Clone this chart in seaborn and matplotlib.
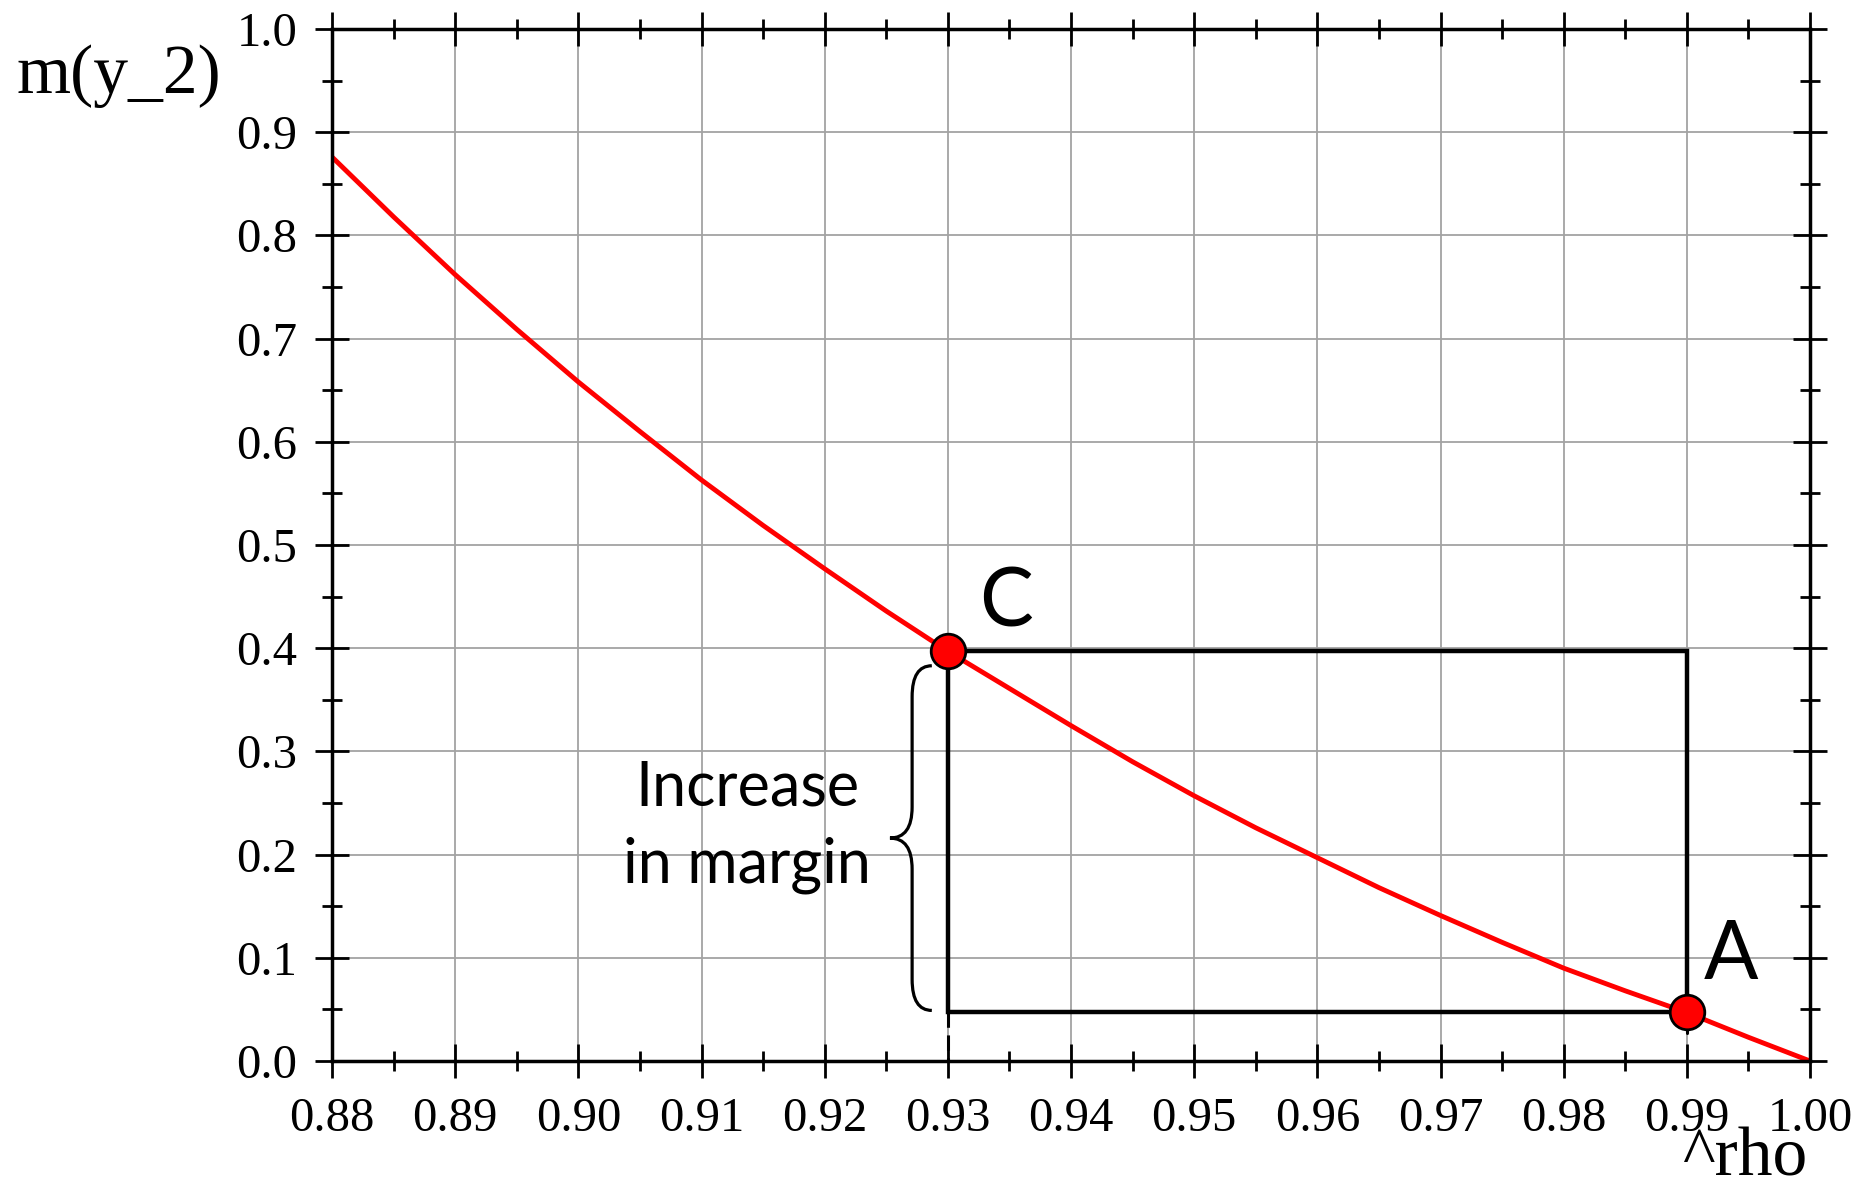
import numpy as np
import pandas as pd
import matplotlib
matplotlib.use("Agg")
import matplotlib.pyplot as plt
from matplotlib.path import Path
from matplotlib.patches import PathPatch
from matplotlib.ticker import MultipleLocator, FixedLocator, FixedFormatter
import seaborn as sns

# ---------------- data ----------------
rho = [0.880, 0.885, 0.890, 0.895, 0.900, 0.905, 0.910, 0.915, 0.920, 0.925,
       0.930, 0.935, 0.940, 0.945, 0.950, 0.955, 0.960, 0.965, 0.970, 0.975,
       0.980, 0.985, 0.990, 0.995, 1.000]
margin = [0.876, 0.818, 0.762, 0.709, 0.658, 0.610, 0.563, 0.519, 0.477, 0.436,
          0.397, 0.361, 0.325, 0.290, 0.257, 0.226, 0.197, 0.168, 0.141, 0.115,
          0.090, 0.068, 0.047, 0.023, 0.0]

x_ticks = [0.88, 0.89, 0.90, 0.91, 0.92, 0.93, 0.94, 0.95, 0.96, 0.97, 0.98, 0.99, 1.00]
x_tick_labels = ["0.88", "0.89", "0.90", "0.91", "0.92", "0.93", "0.94",
                 "0.95", "0.96", "0.97", "0.98", "0.99", "1.00"]
y_ticks = [0.0, 0.1, 0.2, 0.3, 0.4, 0.5, 0.6, 0.7, 0.8, 0.9, 1.0]
y_tick_labels = ["0.0", "0.1", "0.2", "0.3", "0.4", "0.5", "0.6", "0.7", "0.8", "0.9", "1.0"]

point_labels = ["C", "A"]
point_rho = [0.93, 0.99]
point_margin = [0.397, 0.047]

brace_lines = ["Increase", "in margin"]
x_label = "^rho"
y_label = "m(y_2)"

# ---------------- style ----------------
sns.set_theme(style="ticks")
plt.rcParams['font.family'] = ['Liberation Serif', 'DejaVu Serif']
plt.rcParams['axes.edgecolor'] = 'black'

fig = plt.figure(figsize=(18.56, 11.86), dpi=100)
fig.patch.set_facecolor('white')
ax = fig.add_axes([332 / 1856, 1 - 1061 / 1186, (1810 - 332) / 1856, (1061 - 29) / 1186])
ax.set_facecolor('white')

ax.set_xlim(0.88, 1.00)
ax.set_ylim(0.0, 1.0)

ax.xaxis.set_major_locator(FixedLocator(x_ticks))
ax.xaxis.set_major_formatter(FixedFormatter(x_tick_labels))
ax.yaxis.set_major_locator(FixedLocator(y_ticks))
ax.yaxis.set_major_formatter(FixedFormatter(y_tick_labels))
ax.xaxis.set_minor_locator(MultipleLocator(0.005))
ax.yaxis.set_minor_locator(MultipleLocator(0.05))

ax.grid(True, which='major', color='#a3a3a3', linewidth=1.3)
ax.set_axisbelow(True)

for s in ax.spines.values():
    s.set_linewidth(2.5)
    s.set_color('black')
    s.set_zorder(6)

ax.tick_params(which='major', direction='inout', length=24, width=2, color='black',
               top=True, right=True, labelsize=35, labelcolor='black')
ax.tick_params(which='minor', direction='inout', length=14, width=2, color='black',
               top=True, right=True)
ax.tick_params(axis='x', which='major', pad=14)
ax.tick_params(axis='y', which='major', pad=13)

# ---------------- curve ----------------
df = pd.DataFrame({'rho': rho, 'margin': margin})
sns.lineplot(data=df, x='rho', y='margin', color='#ff0000', linewidth=3.5, ax=ax,
             zorder=3, legend=False)
ax.set_xlabel('')
ax.set_ylabel('')

# ---------------- box ----------------
xc, xa = point_rho
yc, ya = point_margin
ax.plot([xc, xa, xa, xc, xc], [yc, yc, ya, ya, yc], color='black', lw=3.2,
        zorder=4, solid_joinstyle='miter')
ax.plot([xc, xc], [ya, 0.0], color='black', lw=2.2, ls=(0, (5, 2.5)), zorder=4)
ax.plot([xa, xa], [ya, ya - 0.02], color='black', lw=2.2, zorder=4)

# ---------------- points ----------------
sns.scatterplot(x=point_rho, y=point_margin, s=620, color='#ff0000', edgecolor='black',
                linewidth=2.0, ax=ax, zorder=5, legend=False)

offsets = [(42, 18), (32, 24)]
for lab, xv, yv, off in zip(point_labels, point_rho, point_margin, offsets):
    ax.annotate(lab, (xv, yv), xytext=off, textcoords='offset points',
                ha='center', va='baseline', fontsize=58, family=['Lato', 'DejaVu Sans'],
                color='black', zorder=7)

# ---------------- brace ----------------
x_end, x_mid, x_tip = 0.9287, 0.9271, 0.9253
y_top, y_bot = 0.383, 0.049
y_tip = (y_top + y_bot) / 2
r = 0.03
verts = [(x_end, y_top), (x_mid, y_top), (x_mid, y_top - r),
         (x_mid, y_tip + r),
         (x_mid, y_tip), (x_tip, y_tip),
         (x_mid, y_tip), (x_mid, y_tip - r),
         (x_mid, y_bot + r),
         (x_mid, y_bot), (x_end, y_bot)]
codes = [Path.MOVETO, Path.CURVE3, Path.CURVE3,
         Path.LINETO,
         Path.CURVE3, Path.CURVE3,
         Path.CURVE3, Path.CURVE3,
         Path.LINETO,
         Path.CURVE3, Path.CURVE3]
ax.add_patch(PathPatch(Path(verts, codes), facecolor='none', edgecolor='black',
                       lw=2.3, zorder=4))

brace_baselines = [0.248, 0.1725]
for line, yb in zip(brace_lines, brace_baselines):
    ax.text(0.9137, yb, line, ha='center', va='baseline', fontsize=44,
            family=['Lato', 'DejaVu Sans'], color='black', zorder=7)

# ---------------- axis labels ----------------
fig.text(17 / 1856, 1 - 93 / 1186, y_label, ha='left', va='baseline', fontsize=50,
         color='black')
fig.text(1807 / 1856, 1 - 1176 / 1186, x_label, ha='right', va='baseline', fontsize=50,
         color='black')

fig.savefig('out.png', dpi=100, facecolor='white')
